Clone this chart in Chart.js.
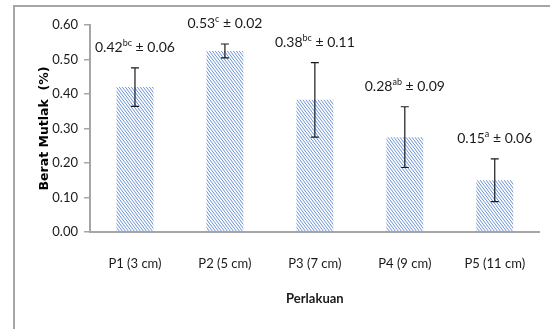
<!DOCTYPE html>
<html>
<head>
<meta charset="utf-8">
<script src="https://cdn.jsdelivr.net/npm/chart.js@4.4.0/dist/chart.umd.min.js"></script>
<style>
    html, body { margin: 0; padding: 0; background: #fff; }
    #wrap { position: relative; width: 550px; height: 329px; overflow: hidden; }
    #frame { position: absolute; left: 13px; top: 5px; width: 600px; height: 400px; border: 1px solid #a6a6a6; border-width: 2px 0 0 2px; }
    canvas { position: absolute; left: 0; top: 0; }
</style>
</head>
<body>
<div id="wrap">
    <div id="frame"></div>
    <canvas id="beratChart" width="550" height="329"></canvas>
</div>
<script>
"use strict";

var categories = ['P1 (3 cm)', 'P2 (5 cm)', 'P3 (7 cm)', 'P4 (9 cm)', 'P5 (11 cm)'];
var beratMutlak = [0.42, 0.525, 0.383, 0.275, 0.15];
var simpangan = [0.056, 0.02, 0.108, 0.088, 0.062];
var meanText = ['0.42', '0.53', '0.38', '0.28', '0.15'];
var notasi = ['bc', 'c', 'bc', 'ab', 'a'];
var sdText = ['0.06', '0.02', '0.11', '0.09', '0.06'];

var FONT = "Lato, 'Open Sans', sans-serif";

function makeHatch() {
    var tile = document.createElement('canvas');
    tile.width = 3;
    tile.height = 4;
    var c = tile.getContext('2d');
    c.strokeStyle = '#5a86d0';
    c.lineWidth = 0.9;
    for (var k = -1; k <= 1; k++) {
        c.beginPath();
        c.moveTo(k * 3, 0);
        c.lineTo(k * 3 + 3, 4);
        c.stroke();
    }
    return c.createPattern(tile, 'repeat');
}

var ctx = document.getElementById('beratChart').getContext('2d');

var errorBarPlugin = {
    id: 'errorBars',
    afterDatasetsDraw: function (chart) {
        var x = chart.scales.x;
        var y = chart.scales.y;
        var g = chart.ctx;
        g.save();
        for (var i = 0; i < beratMutlak.length; i++) {
            var cx = x.getPixelForValue(i);
            var top = y.getPixelForValue(beratMutlak[i] + simpangan[i]);
            var bot = y.getPixelForValue(beratMutlak[i] - simpangan[i]);
            g.strokeStyle = '#1a1a1a';
            g.lineWidth = 1.2;
            g.beginPath();
            g.moveTo(cx, top); g.lineTo(cx, bot);
            g.moveTo(cx - 4, top); g.lineTo(cx + 4, top);
            g.moveTo(cx - 4, bot); g.lineTo(cx + 4, bot);
            g.stroke();

            // label: mean + superscript + " ± sd"
            var big = '14px ' + FONT;
            var small = '9px ' + FONT;
            var rest = ' \u00b1 ' + sdText[i];
            g.font = big;
            var w1 = g.measureText(meanText[i]).width;
            var w3 = g.measureText(rest).width;
            g.font = small;
            var w2 = g.measureText(notasi[i]).width;
            var start = cx - (w1 + w2 + w3) / 2;
            var ly = top - 20;
            g.fillStyle = '#1a1a1a';
            g.textBaseline = 'middle';
            g.textAlign = 'left';
            g.font = big;
            g.fillText(meanText[i], start, ly);
            g.font = small;
            g.fillText(notasi[i], start + w1, ly - 5);
            g.font = big;
            g.fillText(rest, start + w1 + w2, ly);
        }
        g.restore();
    }
};

var beratChart = new Chart(ctx, {
    type: 'bar',
    data: {
        labels: categories,
        datasets: [{
            data: beratMutlak,
            backgroundColor: makeHatch(),
            borderWidth: 0,
            categoryPercentage: 1,
            barPercentage: 0.41
        }]
    },
    options: {
        responsive: false,
        animation: false,
        layout: { padding: { left: 13, right: 9, top: 25, bottom: 18 } },
        plugins: {
            legend: { display: false },
            tooltip: { enabled: false }
        },
        scales: {
            x: {
                grid: { display: false, drawTicks: false },
                border: { display: true, color: '#a6a6a6', width: 2 },
                ticks: { color: '#1a1a1a', font: { family: FONT, size: 13 }, padding: 24 },
                title: { display: true, text: 'Perlakuan', color: '#1a1a1a', font: { family: FONT, size: 13, weight: 'bold' }, padding: { top: 8 } },
                afterFit: function (scale) { scale.height = 79; }
            },
            y: {
                min: 0,
                max: 0.6,
                grid: { drawOnChartArea: false, drawTicks: true, tickLength: 6, color: '#a6a6a6', lineWidth: 1.5 },
                border: { display: true, color: '#a6a6a6', width: 2 },
                ticks: {
                    stepSize: 0.1,
                    padding: 6,
                    color: '#1a1a1a',
                    font: { family: FONT, size: 13 },
                    callback: function (v) { return Number(v).toFixed(2); }
                },
                title: { display: true, text: 'Berat Mutlak  (%)', color: '#000', font: { family: 'DejaVu Sans', size: 12.5, weight: 'bold' }, padding: { top: 24, bottom: 0 } },
                afterFit: function (scale) { scale.width = 77; }
            }
        }
    },
    plugins: [errorBarPlugin]
});
</script>
</body>
</html>
